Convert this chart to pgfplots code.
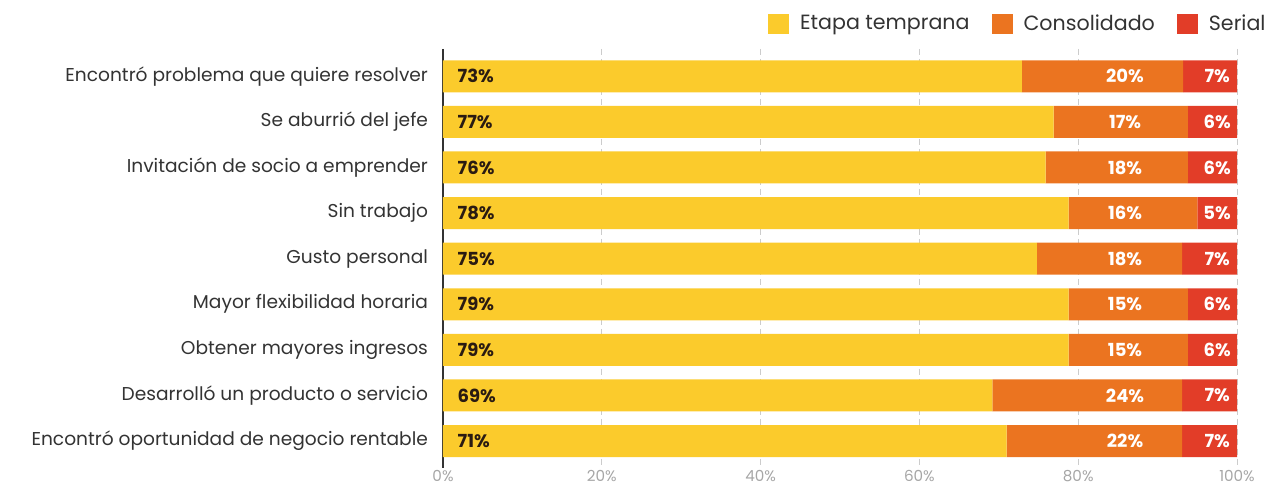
\documentclass[border=0pt]{standalone}
\usepackage{pgfplots}
\usepackage{pgfplotstable}
\pgfplotsset{compat=1.18}
\usepackage{fontspec}
\setmainfont{Poppins}
\definecolor{cyel}{HTML}{FBCB2C}
\definecolor{corg}{HTML}{EB7420}
\definecolor{cred}{HTML}{E23D28}
\definecolor{cdark}{HTML}{2A1B12}
\definecolor{ctxt}{HTML}{333333}
\pgfplotstableread{
y  a     b     c
0  72.9  20.3  6.8
1  76.9  16.9  6.2
2  75.9  17.9  6.2
3  78.8  16.2  5.0
4  74.8  18.3  6.9
5  78.8  15.0  6.2
6  78.8  15.0  6.2
7  69.2  23.9  6.9
8  71.0  22.1  6.9
}\bars
\pgfplotstableread{
y  pa   la  pb    lb  pc    lc
0  1.8  73  85.9  20  97.5  7
1  1.8  77  85.9  17  97.5  6
2  1.8  76  85.9  18  97.5  6
3  1.8  78  85.9  16  97.5  5
4  1.8  75  85.9  18  97.5  7
5  1.8  79  85.9  15  97.5  6
6  1.8  79  85.9  15  97.5  6
7  1.8  69  85.9  24  97.5  7
8  1.8  71  85.9  22  97.5  7
}\labs
\begin{document}
\begin{tikzpicture}
\begin{axis}[
  name=main,
  scale only axis,
  width=397pt, height=209.75pt,
  xbar stacked, bar width=16pt,
  xmin=0, xmax=100, ymin=-0.6, ymax=8.6,
  y dir=reverse,
  /pgf/number format/assume math mode=true,
  axis y line*=left, axis x line*=bottom,
  x axis line style={draw=none},
  y axis line style={draw=ctxt, line width=0.9pt},
  xtick={0,20,40,60,80,100},
  xticklabel={\pgfmathprintnumber{\tick}\%},
  xticklabel style={font=\fontsize{7.6}{9}\selectfont, text=gray!70, yshift=2.5pt},
  major tick length=0pt,
  xmajorgrids, grid style={gray!40, densely dashed, line width=0.5pt},
  ytick={0,...,8},
  yticklabels={Encontró problema que quiere resolver, Se aburrió del jefe, Invitación de socio a emprender, Sin trabajo, Gusto personal, Mayor flexibilidad horaria, Obtener mayores ingresos, Desarrolló un producto o servicio, Encontró oportunidad de negocio rentable},
  yticklabel style={font=\fontsize{9.3}{11}\selectfont, text=ctxt, xshift=-4pt},
  legend style={at={(rel axis cs:1.049,1.1015)}, anchor=north east, draw=none, fill=none,
    legend columns=-1, font=\fontsize{10.3}{12}\selectfont, text=ctxt,
    /tikz/every even column/.append style={column sep=9pt}},
  legend image code/.code={\fill[#1] (0pt,-5.2pt) rectangle (10.5pt,5.2pt); \path (14pt,0pt);},
]
\addplot[fill=cyel, draw=none] table[x=a, y=y] {\bars};
\addplot[fill=corg, draw=none] table[x=b, y=y] {\bars};
\addplot[fill=cred, draw=none] table[x=c, y=y] {\bars};
\legend{Etapa temprana, Consolidado, Serial}
\end{axis}
\begin{axis}[
  scale only axis,
  width=397pt, height=209.75pt,
  xmin=0, xmax=100, ymin=-0.6, ymax=8.6,
  y dir=reverse, hide axis,
  /pgf/number format/assume math mode=true,
  point meta=explicit,
]
\addplot[draw=none, mark=none, nodes near coords={\pgfmathprintnumber{\pgfplotspointmeta}\%},
  every node near coord/.append style={anchor=west, inner sep=0pt, font=\fontsize{9}{10}\selectfont\bfseries, text=cdark}]
  table[x=pa, y=y, meta=la] {\labs};
\addplot[draw=none, mark=none, nodes near coords={\pgfmathprintnumber{\pgfplotspointmeta}\%},
  every node near coord/.append style={anchor=center, inner sep=0pt, font=\fontsize{9}{10}\selectfont\bfseries, text=white}]
  table[x=pb, y=y, meta=lb] {\labs};
\addplot[draw=none, mark=none, nodes near coords={\pgfmathprintnumber{\pgfplotspointmeta}\%},
  every node near coord/.append style={anchor=center, inner sep=0pt, font=\fontsize{9}{10}\selectfont\bfseries, text=white}]
  table[x=pc, y=y, meta=lc] {\labs};
\end{axis}
\pgfresetboundingbox
\path ([xshift=-221.5pt,yshift=-7.8pt]main.south west) rectangle ([xshift=412pt,yshift=234.2pt]main.south west);
\end{tikzpicture}
\end{document}
